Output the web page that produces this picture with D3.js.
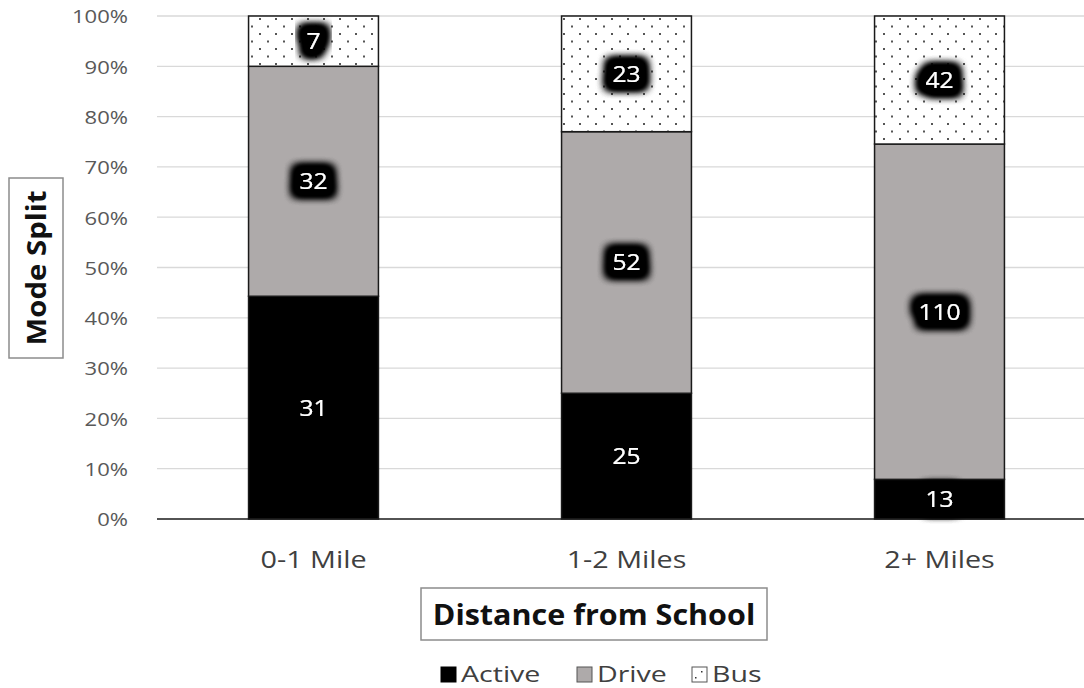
<!DOCTYPE html>
<html>
<head>
<meta charset="utf-8">
<script src="https://cdn.jsdelivr.net/npm/d3@7"></script>
<style>
  html, body { margin: 0; padding: 0; background: #fff; }
  svg { display: block; font-family: "Open Sans", Lato, sans-serif; }
</style>
</head>
<body>
<svg id="chart" width="1084" height="688"></svg>
<script>
// Trips to school by distance band and travel mode (counts)
const categories = ["0-1 Mile", "1-2 Miles", "2+ Miles"];
const modes = ["Active", "Drive", "Bus"];
const active = [31, 25, 13];
const drive = [32, 52, 110];
const bus = [7, 23, 42];
const yTicks = [0, 0.1, 0.2, 0.3, 0.4, 0.5, 0.6, 0.7, 0.8, 0.9, 1.0];

const rows = categories.map((c, i) => ({ category: c, Active: active[i], Drive: drive[i], Bus: bus[i] }));
const stack = d3.stack().keys(modes).offset(d3.stackOffsetExpand);
const series = stack(rows);

const svg = d3.select("#chart");
const margin = { left: 157, right: 1096, top: 16, bottom: 519 };

const x = d3.scaleBand().domain(categories).range([margin.left, margin.right])
  .paddingInner(0.585).paddingOuter(0.2925);
const y = d3.scaleLinear().domain([0, 1]).range([margin.bottom, margin.top]);

// widen glyphs horizontally around their anchor point
function stretch(sel, sx) {
  sel.each(function () {
    const t = d3.select(this);
    const tx = +t.attr("x") || 0, ty = +t.attr("y") || 0;
    const prev = t.attr("transform") || "";
    t.attr("x", 0).attr("y", 0)
      .attr("transform", `${prev} translate(${tx},${ty}) scale(${sx},1)`);
  });
}

const defs = svg.append("defs");
// sparse dot fill for the bus segment
const pat = defs.append("pattern").attr("id", "dots").attr("patternUnits", "userSpaceOnUse")
  .attr("width", 16).attr("height", 15);
pat.append("rect").attr("width", 16).attr("height", 15).attr("fill", "#fff");
pat.append("rect").attr("x", 3).attr("y", 3).attr("width", 2).attr("height", 2).attr("fill", "#555");
pat.append("rect").attr("x", 11).attr("y", 10.5).attr("width", 2).attr("height", 2).attr("fill", "#555");

// dark halo behind value labels
const glow = defs.append("filter").attr("id", "halo").attr("x", "-80%").attr("y", "-100%").attr("width", "260%").attr("height", "300%");
glow.append("feMorphology").attr("in", "SourceAlpha").attr("operator", "dilate").attr("radius", 6.5).attr("result", "fat");
glow.append("feGaussianBlur").attr("in", "fat").attr("stdDeviation", 4.5).attr("result", "blur");
glow.append("feComponentTransfer").attr("in", "blur").attr("result", "dark")
  .append("feFuncA").attr("type", "linear").attr("slope", 1.8);
const merge = glow.append("feMerge");
merge.append("feMergeNode").attr("in", "dark");
merge.append("feMergeNode").attr("in", "dark");
merge.append("feMergeNode").attr("in", "SourceGraphic");

// gridlines
svg.append("g").selectAll("line").data(yTicks.slice(1)).join("line")
  .attr("x1", margin.left).attr("x2", margin.right)
  .attr("y1", d => y(d)).attr("y2", d => y(d))
  .attr("stroke", "#d9d9d9").attr("stroke-width", 1.3);

// y axis tick labels
const yAxis = d3.axisLeft(y).tickValues(yTicks).tickFormat(d3.format(".0%")).tickSize(0).tickPadding(0);
const gy = svg.append("g").attr("transform", `translate(${margin.left - 29},0)`).call(yAxis);
gy.select(".domain").remove();
gy.selectAll("text").attr("font-size", 19).attr("fill", "#595959")
  .attr("font-family", "'Open Sans', sans-serif").attr("dy", "0.36em");
stretch(gy.selectAll("text"), 1.16);

const fills = { Active: "#000000", Drive: "#aeaaaa", Bus: "url(#dots)" };

// stacked bars
const layers = svg.append("g").selectAll("g").data(series).join("g");
layers.selectAll("rect").data(d => d.map(p => ({ key: d.key, p }))).join("rect")
  .attr("x", d => x(d.p.data.category))
  .attr("width", x.bandwidth())
  .attr("y", d => y(d.p[1]))
  .attr("height", d => y(d.p[0]) - y(d.p[1]))
  .attr("fill", d => fills[d.key])
  .attr("stroke", "#1a1a1a").attr("stroke-width", 1.5);

// baseline
svg.append("line").attr("x1", margin.left).attr("x2", margin.right)
  .attr("y1", y(0)).attr("y2", y(0)).attr("stroke", "#1a1a1a").attr("stroke-width", 1.5);

// value labels
const labels = svg.append("g");
series.forEach(s => {
  s.forEach(p => {
    labels.append("text")
      .attr("x", x(p.data.category) + x.bandwidth() / 2)
      .attr("y", (y(p[0]) + y(p[1])) / 2)
      .attr("text-anchor", "middle").attr("dy", "0.36em")
      .attr("font-size", 22).attr("fill", "#fff")
      .attr("filter", "url(#halo)")
      .text(p.data[s.key]);
  });
});
stretch(labels.selectAll("text"), 1.12);

// category axis labels
const xAxis = d3.axisBottom(x).tickSize(0).tickPadding(0);
const gx = svg.append("g").attr("transform", `translate(0,${y(0) + 49})`).call(xAxis);
gx.select(".domain").remove();
gx.selectAll("text").attr("font-size", 23).attr("fill", "#404040")
  .attr("font-family", "'Open Sans', sans-serif").attr("dy", 0);
stretch(gx.selectAll("text"), 1.25);

// axis titles in boxes
const xt = svg.append("g").attr("transform", "translate(594,614)");
xt.append("rect").attr("x", -173).attr("y", -26).attr("width", 346).attr("height", 52)
  .attr("fill", "#fff").attr("stroke", "#8c8c8c").attr("stroke-width", 1.5);
const xtText = xt.append("text").attr("text-anchor", "middle").attr("y", 11)
  .attr("font-size", 28).attr("font-weight", "bold").attr("fill", "#111")
  .text("Distance from School");
stretch(xtText, 1.09);

const yt = svg.append("g").attr("transform", "translate(36,268) rotate(-90)");
yt.append("rect").attr("x", -90).attr("y", -27).attr("width", 180).attr("height", 54)
  .attr("fill", "#fff").attr("stroke", "#8c8c8c").attr("stroke-width", 1.5);
const ytText = yt.append("text").attr("text-anchor", "middle").attr("y", 10)
  .attr("font-size", 26).attr("font-weight", "bold").attr("fill", "#111")
  .text("Mode Split");
stretch(ytText, 1.13);

// legend
const legendX = [441, 577, 692];
const lg = svg.append("g").attr("transform", "translate(0,674)");
modes.forEach((m, i) => {
  const g = lg.append("g").attr("transform", `translate(${legendX[i]},0)`);
  g.append("rect").attr("x", 0).attr("y", -7).attr("width", 15).attr("height", 15)
    .attr("fill", m === "Bus" ? "#fff" : fills[m]).attr("stroke", m === "Active" ? "#000" : "#555").attr("stroke-width", 1);
  if (m === "Bus") {
    g.append("rect").attr("x", 3).attr("y", 3).attr("width", 1.5).attr("height", 1.5).attr("fill", "#333");
    g.append("rect").attr("x", 9).attr("y", -3).attr("width", 1.5).attr("height", 1.5).attr("fill", "#333");
  }
  const t = g.append("text").attr("x", 20).attr("y", 8)
    .attr("font-size", 21).attr("fill", "#404040").text(m);
  stretch(t, 1.36);
});
</script>
</body>
</html>
